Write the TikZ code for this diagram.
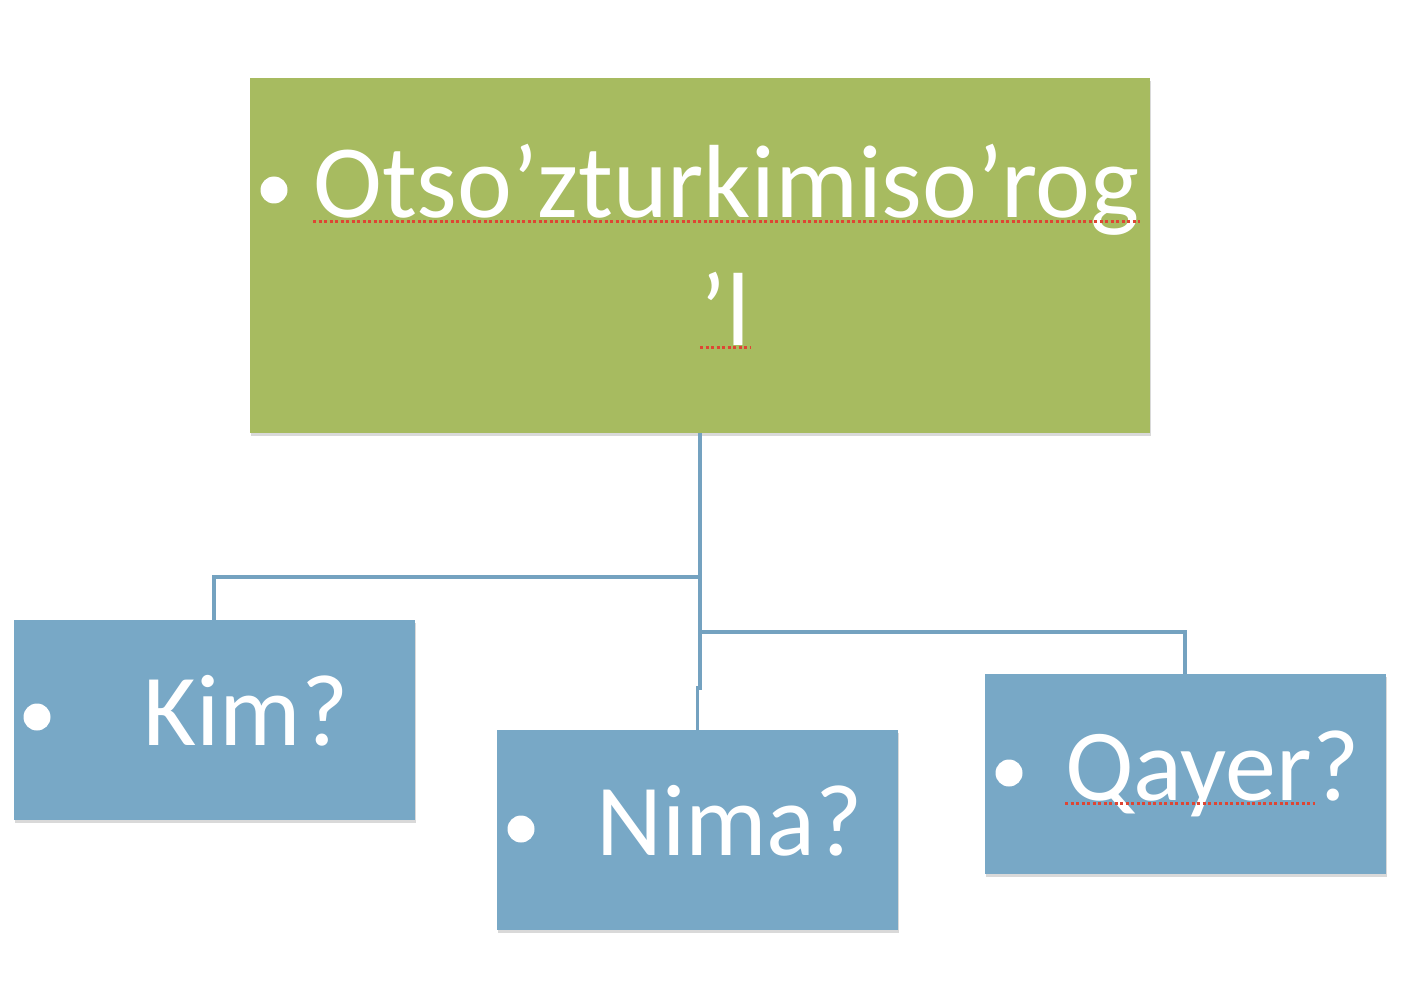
\documentclass[tikz,border=0pt]{standalone}
\usepackage{fontspec}
\setmainfont{Carlito}
\usetikzlibrary{shadows}
\definecolor{topgreen}{RGB}{167,187,96}
\definecolor{leafblue}{RGB}{120,168,198}
\definecolor{linkblue}{RGB}{116,162,192}
\definecolor{spellred}{RGB}{222,70,52}
\tikzset{
  box/.style={rectangle,inner sep=0pt,
    drop shadow={shadow xshift=1pt,shadow yshift=-3pt,opacity=0.3}},
  topbox/.style={box,fill=topgreen,minimum width=900pt,minimum height=355pt},
  leafbox/.style={box,fill=leafblue,minimum width=401pt,minimum height=200pt},
  word/.style={anchor=base west,inner sep=0pt,text=white,
    font=\fontsize{102}{127}\selectfont},
  dot/.style={circle,fill=white,inner sep=0pt,minimum size=27pt},
  link/.style={draw=linkblue,line width=3.5pt},
  squiggle/.style={draw=spellred,line width=3pt,dash pattern=on 3pt off 2.5pt}
}
\begin{document}
\begin{tikzpicture}[x=1pt,y=-1pt]
    \useasboundingbox (0,0) rectangle (1418,1000);
    % boxes
    \node[topbox] (top) at (700,255.5) {};
    \node[leafbox] (kim) at (214,720) {};
    \node[leafbox] (nima) at (697.5,830) {};
    \node[leafbox] (qayer) at (1185,774) {};
    % connectors
    \draw[link] (top.south) -- ++(0,144) -| (kim.north);
    \draw[link] (top.south) -- ++(0,199) -| (qayer.north);
    \draw[link] (top.south) -- ++(0,255) coordinate (bend) -| (nima.north);
    % texts
    \node[dot] (d1) at (274,190) {};
    \node[word,font=\fontsize{104}{127}\selectfont] (t1) at (313,218) {Otso’zturkimiso’rog};
    \node[word,font=\fontsize{104}{127}\selectfont] (t2) at (700,345) {’l};
    \node[dot] (d2) at (37,717) {};
    \node[word] (t3) at (143,745) {Kim?};
    \node[dot] (d3) at (521,829) {};
    \node[word] (t4) at (596,855) {Nima?};
    \node[dot] (d4) at (1009,773) {};
    \node[word] (t5) at (1065,800) {Qayer?};
    % spell marks
    \draw[squiggle] (t1.base west) ++(0,4) -- ([yshift=-4pt]t1.base east);
    \draw[squiggle] (t2.base west) ++(0,2) -- ([yshift=-2pt]t2.base east);
    \draw[squiggle] (t5.base west) ++(0,3) -- ([yshift=-3pt,xshift=-45pt]t5.base east);
\end{tikzpicture}
\end{document}
